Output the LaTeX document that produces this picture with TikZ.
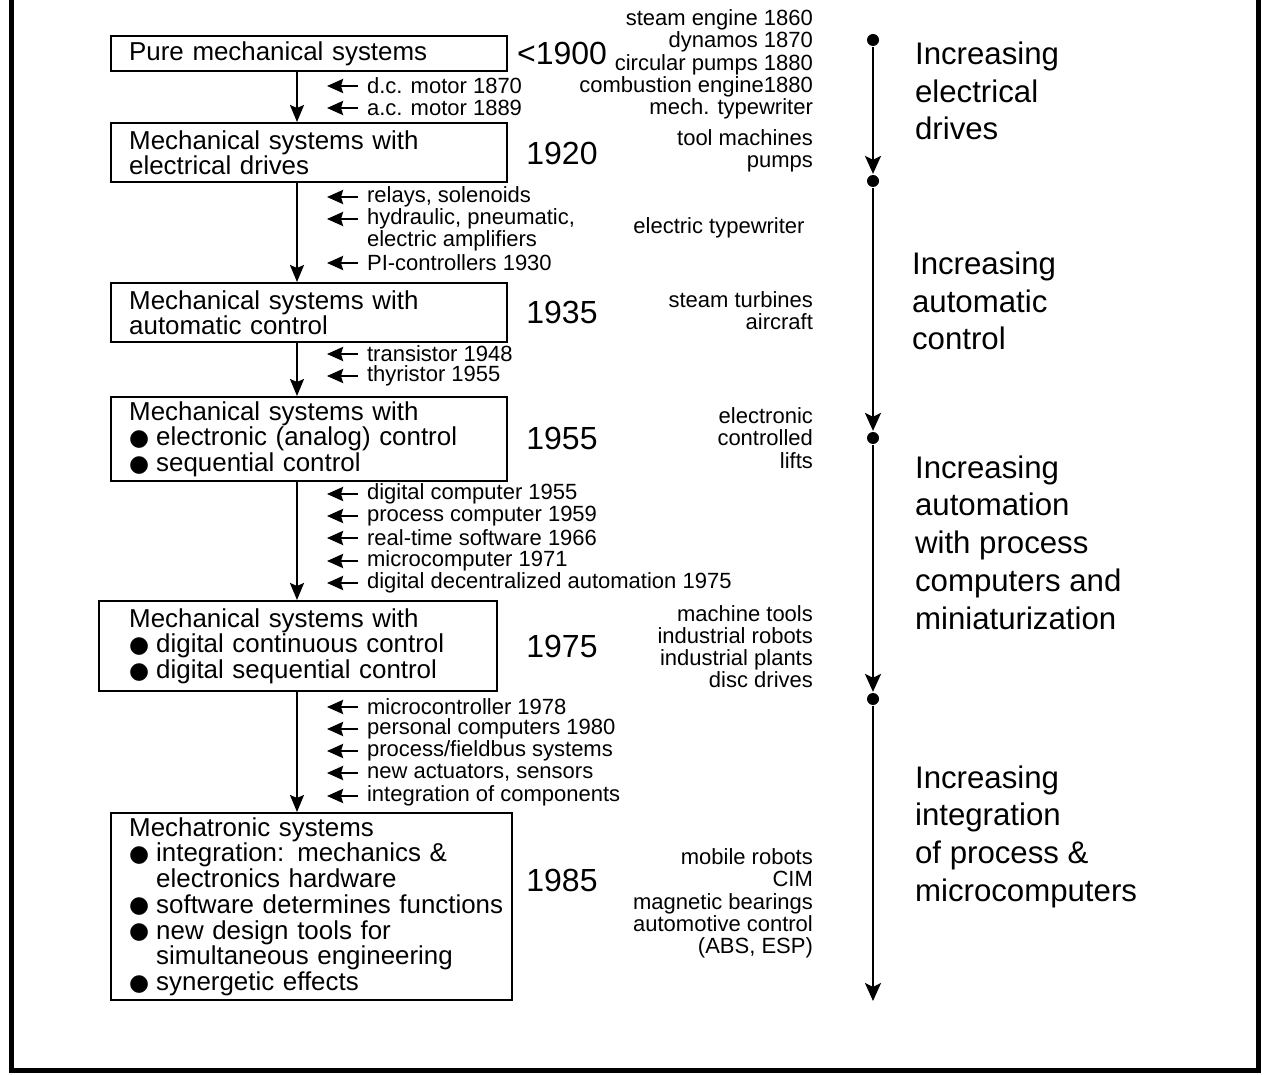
\documentclass[tikz,border=0pt]{standalone}
\usepackage{fontspec}
\setmainfont{Liberation Sans}
\newfontfamily\symfont{DejaVu Sans}
\usepackage{tikz}
\usetikzlibrary{arrows.meta}
\newcommand{\bul}{\makebox[13.5pt][l]{\raisebox{0.2pt}{\symfont\fontsize{11.5}{11}\selectfont ●}}}
\newcommand{\ind}{\hspace*{13.5pt}}

\begin{document}
\begin{tikzpicture}[x=0.5pt,y=-0.5pt,>={Stealth[length=8.5pt,width=7pt,inset=1.5pt]},
		line width=1.1pt]
		\tikzstyle{box}=[draw,line width=1.2pt,anchor=north west,align=left,inner xsep=9pt,inner ysep=0pt,
			font=\fontsize{12.95}{12.85}\selectfont]
		\tikzstyle{year}=[inner sep=0pt,font=\fontsize{16}{16}\selectfont]
		\tikzstyle{feed}=[anchor=west,inner sep=0pt,font=\fontsize{11}{11}\selectfont]
		\tikzstyle{feedarr}=[->,line width=1.3pt,>={Stealth[length=8pt,width=7pt,inset=1pt]}]
		\tikzstyle{note}=[anchor=east,align=right,inner sep=0pt,font=\fontsize{11}{11.1}\selectfont]
		\tikzstyle{trend}=[anchor=west,align=left,inner sep=0pt,font=\fontsize{15.6}{18.85}\selectfont]
		\tikzstyle{dot}=[circle,fill,inner sep=0pt,minimum size=6pt]
		\tikzstyle{timeline}=[->,line width=1.3pt,>={Stealth[length=9pt,width=8pt,inset=2pt]}]

		\useasboundingbox (0,0) rectangle (1266,1075);
		\draw[line width=2.5pt] (11,-5) -- (11,1070) -- (1258,1070) -- (1258,-5);

		\node[box,minimum width=198pt,minimum height=17.5pt,text width=180pt] (b1) at (110,35)
			{Pure mechanical systems};
		\node[box,minimum width=198pt,minimum height=29.5pt,text width=180pt] (b2) at (110,122)
			{Mechanical systems with\\electrical drives};
		\node[box,minimum width=198pt,minimum height=29.5pt,text width=180pt] (b3) at (110,282)
			{Mechanical systems with\\automatic control};
		\node[box,minimum width=198pt,minimum height=42pt,text width=180pt] (b4) at (110,396)
			{Mechanical systems with\\\bul electronic (analog) control\\\bul sequential control};
		\node[box,minimum width=199pt,minimum height=45pt,inner xsep=15pt,text width=169pt] (b5) at (98,600)
			{Mechanical systems with\\\bul digital continuous control\\\bul digital sequential control};
		\node[box,minimum width=200.5pt,minimum height=93.5pt,text width=182.5pt] (b6) at (110,812)
			{Mechatronic systems\\\bul integration: mechanics \&\\\ind electronics hardware\\
			\bul\mbox{software determines functions}\\\bul new design tools for\\\ind simultaneous engineering\\
			\bul synergetic effects};

		\coordinate (ax) at (297,0);
		\draw[->] (b1.south -| ax) -- (b2.north -| ax);
		\draw[->] (b2.south -| ax) -- (b3.north -| ax);
		\draw[->] (b3.south -| ax) -- (b4.north -| ax);
		\draw[->] (b4.south -| ax) -- (b5.north -| ax);
		\draw[->] (b5.south -| ax) -- (b6.north -| ax);

		\node[year] (y1) at (562,53) {<1900};
		\node[year] (y2) at (562,153) {1920};
		\node[year] (y3) at (562,312) {1935};
		\node[year] (y4) at (562,438) {1955};
		\node[year] (y5) at (562,646) {1975};
		\node[year] (y6) at (562,880) {1985};

		\foreach \y/\t in {86/{d.c. motor 1870},108/{a.c. motor 1889},
			197/{relays, solenoids},219/{hydraulic, pneumatic,},263/{PI-controllers 1930},
			354/{transistor 1948},376/{thyristor 1955},
			494/{digital computer 1955},516/{process computer 1959},538/{real-time software 1966},
			561/{microcomputer 1971},583/{digital decentralized automation 1975},
			707/{microcontroller 1978},729/{personal computers 1980},751/{process/fieldbus systems},
			773/{new actuators, sensors},796/{integration of components}}{
			\node[feed] (f\y) at (366,\y) {\t};
			\draw[feedarr] ([xshift=-4pt]f\y.west) -- ([xshift=-19.5pt]f\y.west);
		}
		\node[feed] (f241) at (366,241) {electric amplifiers};

		\node[note] (n1) at (814,64.5) {steam engine 1860\\dynamos 1870\\circular pumps 1880\\
			combustion engine1880\\mech. typewriter};
		\node[note] (n2) at (814,150.5) {tool machines\\pumps};
		\node[note,anchor=center] (n3) at (719,228) {electric typewriter};
		\node[note] (n4) at (814,311) {steam turbines\\aircraft};
		\node[note] (n5) at (814,438) {electronic\\controlled\\lifts};
		\node[note] (n6) at (814,646.5) {machine tools\\industrial robots\\industrial plants\\disc drives};
		\node[note] (n7) at (814,903.5) {mobile robots\\CIM\\magnetic bearings\\automotive control\\(ABS, ESP)};

		\node[dot] (d0) at (873,40) {};
		\node[dot] (d1) at (873,181) {};
		\node[dot] (d2) at (873,438) {};
		\node[dot] (d3) at (873,699) {};
		\coordinate (d4) at (873,1001);
		\draw[timeline] (d0) -- (d1);
		\draw[timeline] (d1) -- (d2);
		\draw[timeline] (d2) -- (d3);
		\draw[timeline] (d3) -- (d4);

		\node[trend] (t1) at (914,91) {Increasing\\electrical\\drives};
		\node[trend] (t2) at (911,301) {Increasing\\automatic\\control};
		\node[trend] (t3) at (914,542.5) {Increasing\\automation\\with process\\computers and\\miniaturization};
		\node[trend] (t4) at (914,836.5) {Increasing\\integration\\of process \&\\microcomputers};
\end{tikzpicture}
\end{document}
